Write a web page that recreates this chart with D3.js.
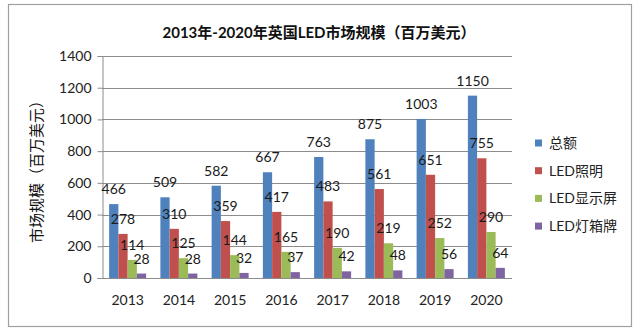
<!DOCTYPE html>
<html><head><meta charset="utf-8">
<script src="https://cdn.jsdelivr.net/npm/d3@7"></script>
<style>
body{margin:0;background:#fff;}
svg text{font-family:"Lato","Noto Sans CJK SC",sans-serif;}
</style></head>
<body><svg id="c" width="640" height="332"></svg>
<script>
const years = ["2013","2014","2015","2016","2017","2018","2019","2020"];
const seriesNames = ["总额","LED照明","LED显示屏","LED灯箱牌"];
const total = [466,509,582,667,763,875,1003,1150];
const lighting = [278,310,359,417,483,561,651,755];
const display = [114,125,144,165,190,219,252,290];
const signage = [28,28,32,37,42,48,56,64];
const yTicks = [0,200,400,600,800,1000,1200,1400];
const colors = ["#4F81BD","#C0504D","#9BBB59","#8064A2"];
const seriesValues = [total, lighting, display, signage];

(function(){
const svg = d3.select("#c");
svg.append("rect").attr("x",0).attr("y",0).attr("width",640).attr("height",332).attr("fill","#fff");
svg.append("rect").attr("x",8.5).attr("y",4.5).attr("width",623).attr("height",322)
  .attr("fill","none").attr("stroke","#a0a0a0").attr("stroke-width",1.2);

const pL=102, pR=512, pT=56, pB=278;
const x0 = d3.scaleBand().domain(years).range([pL,pR]).paddingInner(0).paddingOuter(0);
const groupW = 37;
const x1 = d3.scaleBand().domain(seriesNames).range([0,groupW]);
const y = d3.scaleLinear().domain([0,1400]).range([pB,pT]);

svg.append("g").selectAll("line").data(yTicks.filter(d=>d>0)).join("line")
  .attr("x1",pL).attr("x2",pR).attr("y1",d=>Math.round(y(d))+0.5).attr("y2",d=>Math.round(y(d))+0.5)
  .attr("stroke","#8c8c8c").attr("stroke-width",1);

const yAxis = d3.axisLeft(y).tickValues(yTicks).tickFormat(d3.format("d")).tickSize(5).tickPadding(6);
const ga = svg.append("g").attr("transform",`translate(${pL}.5,0)`).call(yAxis);
ga.select(".domain").attr("stroke","#8c8c8c");
ga.selectAll(".tick line").attr("stroke","#8c8c8c");
ga.selectAll(".tick text").attr("font-size",14).attr("fill","#222")
  .style("font-family","Lato,sans-serif");

const groups = svg.append("g").selectAll("g").data(years).join("g")
  .attr("transform",d=>`translate(${x0(d)+(x0.bandwidth()-groupW)/2},0)`);
seriesNames.forEach((s,si)=>{
  groups.append("rect")
    .attr("x",x1(s)).attr("width",x1.bandwidth())
    .attr("y",(d,i)=>y(seriesValues[si][i]))
    .attr("height",(d,i)=>pB-y(seriesValues[si][i]))
    .attr("fill",colors[si]);
});
seriesNames.forEach((s,si)=>{
  groups.append("text")
    .attr("x",x1(s)+x1.bandwidth()/2)
    .attr("y",(d,i)=>y(seriesValues[si][i])-10)
    .attr("text-anchor","middle")
    .attr("font-size",14).attr("fill","#1a1a1a")
    .text((d,i)=>seriesValues[si][i]);
});

svg.append("line").attr("x1",pL).attr("x2",pR).attr("y1",pB+0.5).attr("y2",pB+0.5)
  .attr("stroke","#8c8c8c");
const xAxis = d3.axisBottom(x0).tickSize(0).tickPadding(17);
const gx = svg.append("g").attr("transform",`translate(0,${pB})`).call(xAxis);
gx.select(".domain").remove();
gx.selectAll(".tick text").attr("font-size",14).attr("fill","#222").style("font-family","Lato,sans-serif");

svg.append("text").attr("x",319).attr("y",38).attr("text-anchor","middle")
  .attr("font-size",15).attr("font-weight","bold").attr("fill","#111")
  .text("2013年-2020年英国LED市场规模（百万美元）");

svg.append("text").attr("transform","translate(42,168) rotate(-90)")
  .attr("text-anchor","middle").attr("font-size",15).attr("fill","#111")
  .text("市场规模（百万美元）");

const lg = svg.append("g").selectAll("g").data(seriesNames).join("g")
  .attr("transform",(d,i)=>`translate(535,${143+i*27.7})`);
lg.append("rect").attr("x",0).attr("y",-3.5).attr("width",7).attr("height",7).attr("fill",(d,i)=>colors[i]);
lg.append("text").attr("x",14).attr("y",0).attr("dy","0.36em").attr("font-size",14).attr("fill","#222")
  .text(d=>d);
})();
</script></body></html>
